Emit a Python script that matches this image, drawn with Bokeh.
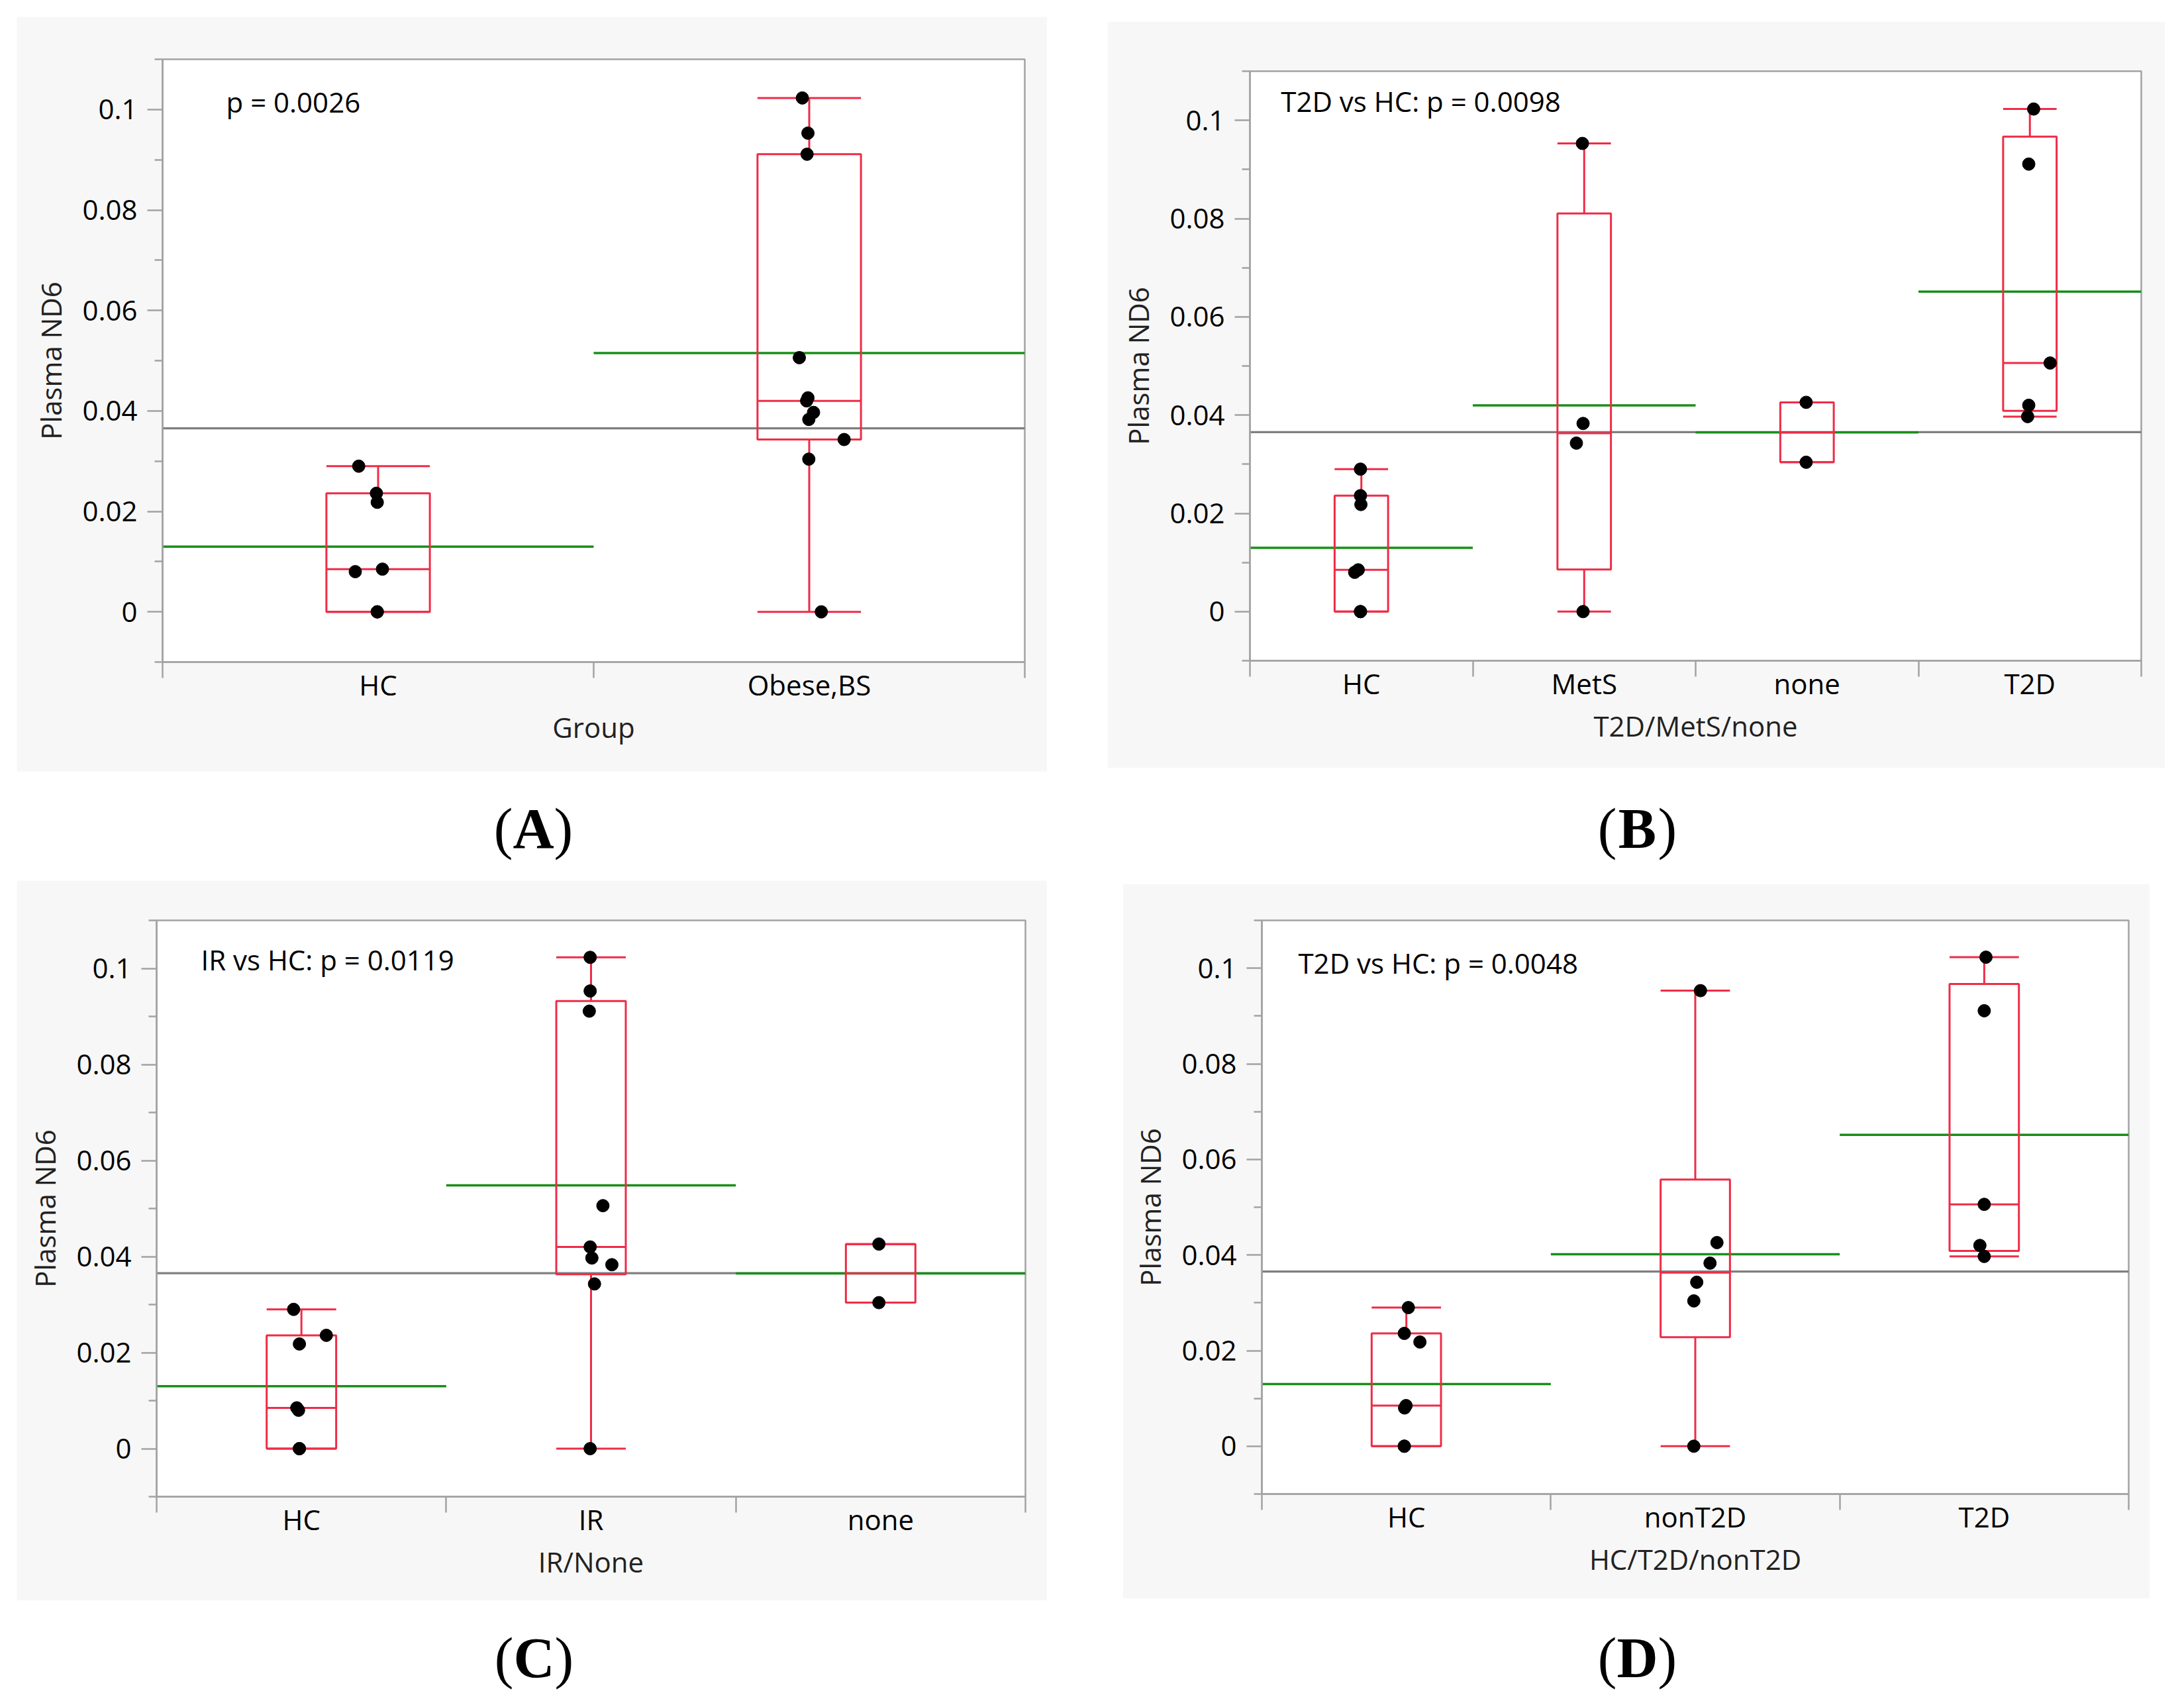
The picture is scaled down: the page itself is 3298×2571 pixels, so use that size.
import numpy as np
from bokeh.plotting import figure
from bokeh.models import Range1d, FixedTicker, Spacer
from bokeh.layouts import row, column
from bokeh.core.properties import value
from bokeh.embed import file_html
from bokeh.resources import INLINE

# ---------------- data ----------------
hc_vals = [0.0290, 0.0236, 0.0218, 0.0085, 0.0080, 0.0, 0.0]
mets_vals = [0.0953, 0.0383, 0.0343, 0.0]
none_vals = [0.0426, 0.0304]
t2d_vals = [0.1023, 0.0911, 0.0506, 0.0420, 0.0397]
groups = {"HC": hc_vals, "MetS": mets_vals, "none": none_vals, "T2D": t2d_vals}

y_ticks = [0, 0.02, 0.04, 0.06, 0.08, 0.1]
y_tick_labels = ["0", "0.02", "0.04", "0.06", "0.08", "0.1"]
y_minor = [-0.01, 0.01, 0.03, 0.05, 0.07, 0.09, 0.11]

# panel A
a_cats = ["HC", "Obese,BS"]
a_members = [["HC"], ["MetS", "none", "T2D"]]
a_jitter = [[-0.045, -0.004, -0.002, 0.010, -0.053, -0.002, -0.002],
            [-0.003, -0.001, 0.081, 0.028, -0.003, -0.001, -0.016, -0.005, -0.023, -0.006, 0.010]]
# panel B
b_cats = ["HC", "MetS", "none", "T2D"]
b_members = [["HC"], ["MetS"], ["none"], ["T2D"]]
b_jitter = [[-0.004, -0.004, -0.002, -0.014, -0.030, -0.004, -0.004],
            [-0.008, -0.005, -0.035, -0.005],
            [-0.004, -0.004],
            [0.017, -0.005, 0.091, -0.005, -0.010]]
# panel C
c_cats = ["HC", "IR", "none"]
c_members = [["HC"], ["MetS", "T2D"], ["none"]]
c_jitter = [[-0.027, 0.086, -0.007, -0.016, -0.010, -0.007, -0.007],
            [-0.003, 0.072, 0.012, -0.003, -0.003, -0.006, 0.041, -0.003, 0.003],
            [-0.006, -0.006]]
# panel D
d_cats = ["HC", "nonT2D", "T2D"]
d_members = [["HC"], ["MetS", "none"], ["T2D"]]
d_jitter = [[0.007, -0.007, 0.047, -0.001, -0.006, -0.007, -0.007],
            [0.018, 0.051, 0.005, -0.005, 0.075, -0.005],
            [0.006, 0.0, 0.0, -0.015, 0.0]]

RED = "#ee2c47"
GREEN = "#188f18"
MEAN_GRAY = "#7f7f7f"
AX_GRAY = "#a3a3a3"
BG = "#f7f7f7"
FONT = "Open Sans"
FS = "42px"
BOX_W = 0.24
RED_W = 3.0


def jmp_q(v, p):
    s = sorted(v)
    n = len(s)
    pos = p * (n + 1)
    if pos <= 1:
        return s[0]
    if pos >= n:
        return s[-1]
    lo = int(np.floor(pos))
    fr = pos - lo
    return s[lo - 1] + fr * (s[lo] - s[lo - 1])


all_vals = sum(groups.values(), [])
grand_mean = float(np.mean(all_vals))


def panel(cats, members, jitter, ptext, ptx, pty, xlabel, w, h, ml, mr, mt, mb):
    n = len(cats)
    p = figure(width=w, height=h, x_range=Range1d(0, n), y_range=Range1d(-0.01, 0.11),
               output_backend="svg", toolbar_location=None,
               min_border_left=ml, min_border_right=mr, min_border_top=mt, min_border_bottom=mb,
               background_fill_color="white", border_fill_color=BG,
               outline_line_color=AX_GRAY, outline_line_width=2.5)
    p.xgrid.visible = False
    p.ygrid.visible = False

    vals = [sum((groups[m] for m in mem), []) for mem in members]
    centers = [i + 0.5 for i in range(n)]
    means = [float(np.mean(v)) for v in vals]
    q1 = [jmp_q(v, 0.25) for v in vals]
    med = [jmp_q(v, 0.5) for v in vals]
    q3 = [jmp_q(v, 0.75) for v in vals]
    hi, lo = [], []
    for v, a, b in zip(vals, q1, q3):
        iqr = b - a
        hi.append(max(x for x in v if x <= b + 1.5 * iqr))
        lo.append(min(x for x in v if x >= a - 1.5 * iqr))
    left = [c - BOX_W / 2 for c in centers]
    right = [c + BOX_W / 2 for c in centers]

    # grand mean
    p.segment(x0=[0], x1=[n], y0=[grand_mean], y1=[grand_mean], line_color=MEAN_GRAY, line_width=3.2)
    # group means
    p.segment(x0=[c - 0.5 for c in centers], x1=[c + 0.5 for c in centers], y0=means, y1=means,
              line_color=GREEN, line_width=3.5)
    # whiskers
    p.segment(x0=centers, x1=centers, y0=q3, y1=hi, line_color=RED, line_width=RED_W)
    p.segment(x0=centers, x1=centers, y0=q1, y1=lo, line_color=RED, line_width=RED_W)
    p.segment(x0=left, x1=right, y0=hi, y1=hi, line_color=RED, line_width=RED_W)
    p.segment(x0=left, x1=right, y0=lo, y1=lo, line_color=RED, line_width=RED_W)
    # boxes
    p.quad(left=left, right=right, bottom=q1, top=q3, fill_color=None, line_color=RED, line_width=RED_W)
    p.segment(x0=left, x1=right, y0=med, y1=med, line_color=RED, line_width=RED_W)
    # points
    xs, ys = [], []
    for c, v, j in zip(centers, vals, jitter):
        xs += [c + jj for jj in j]
        ys += v
    p.scatter(x=xs, y=ys, size=19, marker="circle", fill_color="black", line_color="black")

    p.text(x=[ptx], y=[pty], text=[ptext], text_font=value(FONT), text_font_size=FS,
           text_color="black", text_align="left", text_baseline="alphabetic")

    ya = p.yaxis[0]
    ya.ticker = FixedTicker(ticks=y_ticks, minor_ticks=y_minor)
    ya.major_label_overrides = {t: l for t, l in zip(y_ticks, y_tick_labels)}
    ya.axis_line_color = AX_GRAY
    ya.axis_line_width = 2.5
    ya.major_tick_line_color = AX_GRAY
    ya.major_tick_line_width = 2.5
    ya.minor_tick_line_color = AX_GRAY
    ya.minor_tick_line_width = 2.5
    ya.major_tick_out = 23
    ya.major_tick_in = 0
    ya.minor_tick_out = 12
    ya.minor_tick_in = 0
    ya.major_label_standoff = 15
    ya.major_label_text_font = FONT
    ya.major_label_text_font_size = FS
    ya.major_label_text_color = "black"
    ya.axis_label = "Plasma ND6"
    ya.axis_label_text_font = FONT
    ya.axis_label_text_font_size = FS
    ya.axis_label_text_font_style = "normal"
    ya.axis_label_text_color = "#222222"
    ya.axis_label_standoff = 16

    xa = p.xaxis[0]
    xa.ticker = FixedTicker(ticks=centers, minor_ticks=list(range(n + 1)))
    xa.major_label_overrides = {c: t for c, t in zip(centers, cats)}
    xa.axis_line_color = AX_GRAY
    xa.axis_line_width = 2.5
    xa.major_tick_line_color = None
    xa.major_tick_out = 0
    xa.major_tick_in = 0
    xa.minor_tick_line_color = AX_GRAY
    xa.minor_tick_line_width = 2.5
    xa.minor_tick_out = 24
    xa.minor_tick_in = 0
    xa.major_label_standoff = -19
    xa.major_label_text_font = FONT
    xa.major_label_text_font_size = FS
    xa.major_label_text_color = "black"
    xa.axis_label = xlabel
    xa.axis_label_text_font = FONT
    xa.axis_label_text_font_size = FS
    xa.axis_label_text_font_style = "normal"
    xa.axis_label_text_color = "#222222"
    xa.axis_label_standoff = 4
    return p


figA = panel(a_cats, a_members, a_jitter, "p = 0.0026", 0.1475, 0.1016, "Group",
             1556, 1140, 220, 34, 64, 166)
figB = panel(b_cats, b_members, b_jitter, "T2D vs HC: p = 0.0098", 0.139, 0.1040,
             "T2D/MetS/none", 1597, 1127, 215, 36, 75, 162)
figC = panel(c_cats, c_members, c_jitter, "IR vs HC: p = 0.0119", 0.153, 0.1019, "IR/None",
             1556, 1087, 211, 33, 60, 157)
figD = panel(d_cats, d_members, d_jitter, "T2D vs HC: p = 0.0048", 0.126, 0.1012, "HC/T2D/nonT2D",
             1551, 1079, 210, 32, 55, 158)


def label_fig(h, items):
    W = 3290
    f = figure(width=W, height=h, x_range=Range1d(0, W), y_range=Range1d(h, 0),
               output_backend="svg", toolbar_location=None, min_border=0,
               x_axis_type=None, y_axis_type=None, outline_line_color=None,
               background_fill_color="white", border_fill_color="white")
    f.xgrid.visible = False
    f.ygrid.visible = False
    for cx, by, letter in items:
        f.text(x=[cx - 31], y=[by], text=["("], text_font=value("Liberation Serif"),
               text_font_size="86px", text_align="right", text_baseline="alphabetic", text_color="black")
        f.text(x=[cx], y=[by], text=[letter], text_font=value("Liberation Serif"),
               text_font_size="86px", text_font_style="bold", text_align="center",
               text_baseline="alphabetic", text_color="black")
        f.text(x=[cx + 31], y=[by], text=[")"], text_font=value("Liberation Serif"),
               text_font_size="86px", text_align="left", text_baseline="alphabetic", text_color="black")
    return f


lab1 = label_fig(164, [(805, 85, "A"), (2472, 85, "B")])
lab2 = label_fig(150, [(806, 86, "C"), (2472, 86, "D")])

row1 = row(Spacer(width=25), column(Spacer(height=25), figA), Spacer(width=91),
           column(Spacer(height=32), figB))
row2 = row(Spacer(width=25), figC, Spacer(width=114), column(Spacer(height=5), figD))
page = column(row1, lab1, row2, lab2)

open("out.html", "w").write(file_html(page, INLINE))
